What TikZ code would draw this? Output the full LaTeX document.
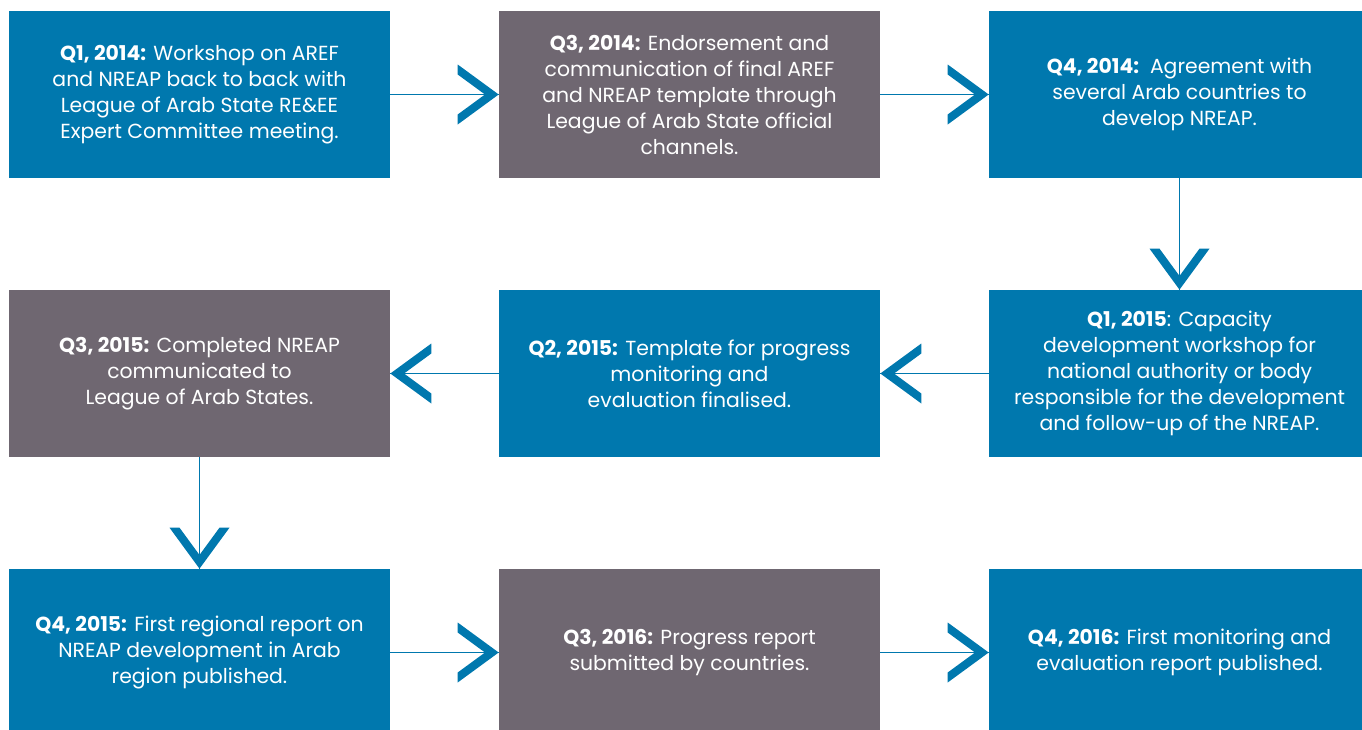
\documentclass[tikz,border=0pt]{standalone}
\usepackage{fontspec}
\setmainfont{Poppins}
\definecolor{boxblue}{HTML}{0078AE}
\definecolor{boxgray}{HTML}{6F6771}
\tikzset{
  x=0.02cm, y=-0.02cm,
  stage/.style={minimum width=7.62cm, minimum height=3.34cm, inner sep=0pt,
    text=white, align=center, font=\fontsize{11.6}{14.8}\selectfont},
  bluebox/.style={stage, fill=boxblue},
  graybox/.style={stage, fill=boxgray},
  link/.style={draw=boxblue, line width=0.8pt},
  chev/.pic={\fill[boxblue] (-41,-30) -- (0,0) -- (-41,30) -- (-41,20) -- (-13.7,0) -- (-41,-20) -- cycle;}
}
\begin{document}
\begin{tikzpicture}
\useasboundingbox (0,0) rectangle (1362,730);
\clip (0,0) rectangle (1362,730);
\node[bluebox] (a1) at (199.5,94.5) {\textbf{Q1, 2014:} Workshop on AREF\\and NREAP back to back with\\League of Arab State RE\&EE\\Expert Committee meeting.};
\node[graybox] (a2) at (689.5,94.5) {\textbf{Q3, 2014:} Endorsement and\\communication of final AREF\\and NREAP template through\\League of Arab State official\\channels.};
\node[bluebox] (a3) at (1179.5,94.5) {\textbf{Q4, 2014:}\ \ Agreement with\\several Arab countries to\\develop NREAP.};
\node[bluebox] (a4) at (1179.5,373.5) {\textbf{Q1, 2015}: Capacity\\development workshop for\\national authority or body\\responsible for the development\\and follow-up of the NREAP.};
\node[bluebox] (a5) at (689.5,373.5) {\textbf{Q2, 2015:} Template for progress\\monitoring and\\evaluation finalised.};
\node[graybox] (a6) at (199.5,373.5) {\textbf{Q3, 2015:} Completed NREAP\\communicated to\\League of Arab States.};
\node[bluebox] (a7) at (199.5,652.5) {\textbf{Q4, 2015:} First regional report on\\NREAP development in Arab\\region published.};
\node[graybox] (a8) at (689.5,652.5) {\textbf{Q3, 2016:} Progress report\\submitted by countries.};
\node[bluebox] (a9) at (1179.5,652.5) {\textbf{Q4, 2016:} First monitoring and\\evaluation report published.};
\draw[link] (a1.east) -- (a2.west);
\pic at (a2.west) {chev};
\draw[link] (a2.east) -- (a3.west);
\pic at (a3.west) {chev};
\draw[link] (a3.south) -- (a4.north);
\pic[rotate=-90] at (a4.north) {chev};
\draw[link] (a4.west) -- (a5.east);
\pic[rotate=180] at (a5.east) {chev};
\draw[link] (a5.west) -- (a6.east);
\pic[rotate=180] at (a6.east) {chev};
\draw[link] (a6.south) -- (a7.north);
\pic[rotate=-90] at (a7.north) {chev};
\draw[link] (a7.east) -- (a8.west);
\pic at (a8.west) {chev};
\draw[link] (a8.east) -- (a9.west);
\pic at (a9.west) {chev};
\end{tikzpicture}
\end{document}
